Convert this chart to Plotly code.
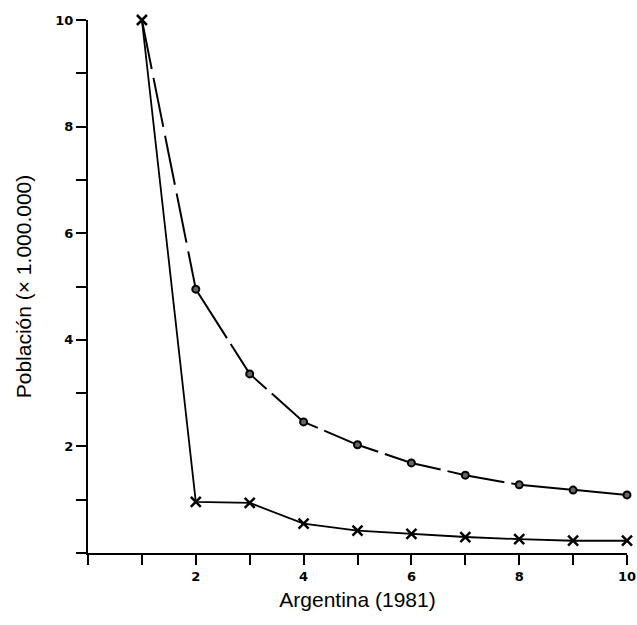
import plotly.graph_objects as go

x_vals = [1, 2, 3, 4, 5, 6, 7, 8, 9, 10]
pop_circles = [10.0, 4.95, 3.36, 2.46, 2.03, 1.69, 1.46, 1.28, 1.18, 1.09]
pop_crosses = [10.0, 0.96, 0.94, 0.55, 0.42, 0.36, 0.30, 0.26, 0.23, 0.23]
tick_vals = [0, 1, 2, 3, 4, 5, 6, 7, 8, 9, 10]
x_tick_text = ["", "", "2", "", "4", "", "6", "", "8", "", "10"]
y_tick_text = ["", "", "2", "", "4", "", "6", "", "8", "", "10"]

fig = go.Figure()
fig.add_trace(go.Scatter(
    x=x_vals[1:], y=pop_circles[1:], mode="lines",
    line=dict(color="black", width=2, dash="58px,7px"),
    showlegend=False, cliponaxis=False))
fig.add_trace(go.Scatter(
    x=x_vals[:2], y=pop_circles[:2], mode="lines",
    line=dict(color="black", width=2, dash="50px,9px"),
    showlegend=False, cliponaxis=False))
fig.add_trace(go.Scatter(
    x=x_vals[1:], y=pop_circles[1:], mode="markers",
    marker=dict(symbol="circle", size=7, color="#666666",
                line=dict(color="black", width=2)),
    showlegend=False, cliponaxis=False))
fig.add_trace(go.Scatter(
    x=x_vals, y=pop_crosses, mode="lines+markers",
    line=dict(color="black", width=1.8),
    marker=dict(symbol="x-thin", size=10, color="black",
                line=dict(color="black", width=2.5)),
    showlegend=False, cliponaxis=False))

axis_common = dict(
    showgrid=False, zeroline=False, showline=True, linecolor="black",
    linewidth=2, ticks="outside", ticklen=10, tickwidth=2,
    tickcolor="black", tickvals=tick_vals, automargin=False,
    tickfont=dict(family="DejaVu Sans", size=13, color="black", weight="bold"),
    range=[0, 10],
)

fig.update_layout(
    width=637, height=625,
    margin=dict(l=88, r=10, t=20, b=72),
    plot_bgcolor="white", paper_bgcolor="white",
    xaxis=dict(**axis_common, ticktext=x_tick_text,
               title=dict(text="Argentina (1981)",
                          font=dict(family="Liberation Sans", size=21, color="black"),
                          standoff=10)),
    yaxis=dict(**axis_common, ticktext=y_tick_text,
               title=dict(text="Población (× 1.000.000)",
                          font=dict(family="Liberation Sans", size=21, color="black"),
                          standoff=18)),
)

fig.write_html(
    "out.html",
    config={"displayModeBar": False},
    post_script="document.body.style.margin='0';document.body.style.overflow='hidden';",
)
